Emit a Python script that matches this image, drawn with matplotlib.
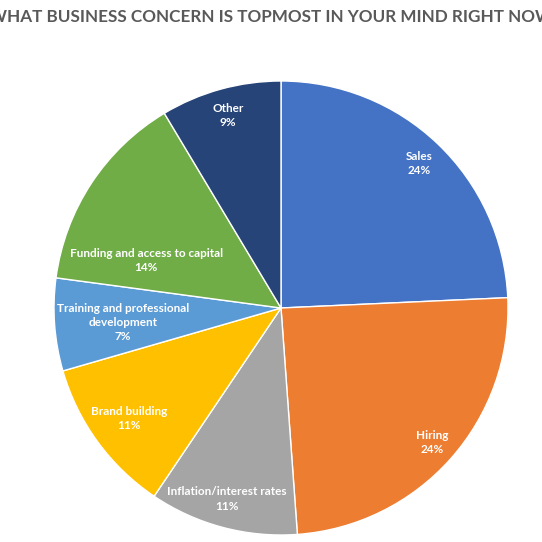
import matplotlib
matplotlib.use("Agg")
import matplotlib.pyplot as plt
import numpy as np

categories = ["Sales", "Hiring", "Inflation/interest rates", "Brand building",
              "Training and professional\ndevelopment", "Funding and access to capital", "Other"]
shares = [24.3, 24.6, 10.6, 11.1, 6.6, 14.3, 8.6]
pct_labels = ["24%", "24%", "11%", "11%", "7%", "14%", "9%"]
colors = ["#4472C4", "#ED7D31", "#A5A5A5", "#FFC000", "#5B9BD5", "#70AD47", "#264478"]
label_r = [0.88, 0.89, 0.875, 0.83, 0.70, 0.63, 0.88]
label_dang = [0, 0, -1, 0, 1, 14, 0]
title = "WHAT BUSINESS CONCERN IS TOPMOST IN YOUR MIND RIGHT NOW"

fig = plt.figure(figsize=(5.42, 5.42), dpi=100)
cx, cy, r = 281/542, 1-308/542, 227/542
ax = fig.add_axes([cx-r, cy-r, 2*r, 2*r])
wedges, _ = ax.pie(shares, colors=colors, startangle=90, counterclock=False,
                   radius=1, wedgeprops=dict(edgecolor="white", linewidth=1))
ax.set_xlim(-1, 1); ax.set_ylim(-1, 1); ax.set_aspect("equal"); ax.axis("off")

for w, cat, pl, lr, da in zip(wedges, categories, pct_labels, label_r, label_dang):
    ang = np.deg2rad((w.theta1 + w.theta2) / 2 + da)
    ax.text(lr*np.cos(ang), lr*np.sin(ang), f"{cat}\n{pl}", ha="center", va="center",
            color="white", fontsize=8.5, fontweight="bold", family="Lato", linespacing=1.35)

fig.text(0.5, 1-17/542, title, ha="center", va="center", fontsize=12.3,
         color="#595959", family="Lato", fontweight="bold")
fig.savefig("out.png", dpi=100)
